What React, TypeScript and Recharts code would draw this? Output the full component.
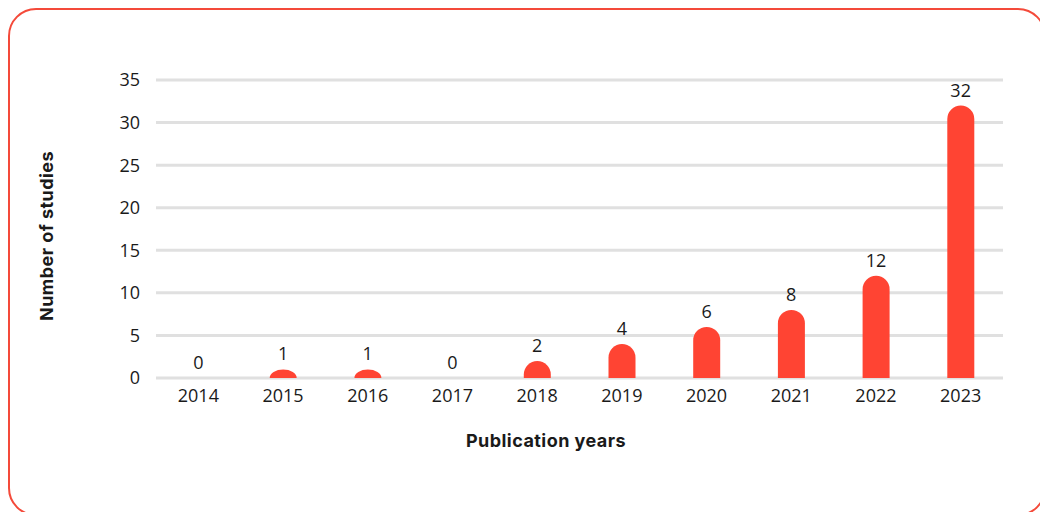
import { ComposedChart, Bar, Line, XAxis, YAxis, CartesianGrid, LabelList } from "recharts";

const years = ["2014", "2015", "2016", "2017", "2018", "2019", "2020", "2021", "2022", "2023"];
const studies = [0, 1, 1, 0, 2, 4, 6, 8, 12, 32];
const yTicks = [0, 5, 10, 15, 20, 25, 30, 35];

const FONT = "'Open Sans', 'Noto Sans', sans-serif";
const TITLE_FONT = "Inter, 'Noto Sans', sans-serif";

// rounded top that turns into a dome when the bar is shorter than its radius
const RoundTopBar = (props: any) => {
  const { x, y, width, height, fill } = props;
  if (!height || height <= 0) return null;
  const r = Math.min(width / 2, 13.5);
  const ry = Math.min(r, height);
  const d = [
    `M${x},${y + height}`,
    `L${x},${y + ry}`,
    `A${r},${ry} 0 0 1 ${x + r},${y}`,
    `L${x + width - r},${y}`,
    `A${r},${ry} 0 0 1 ${x + width},${y + ry}`,
    `L${x + width},${y + height}`,
    "Z",
  ].join(" ");
  return <path d={d} fill={fill} />;
};

const titleStyle = {
  position: "absolute" as const,
  whiteSpace: "nowrap" as const,
  fontWeight: 700,
  fontSize: 18,
  letterSpacing: 0.45,
  fontFamily: TITLE_FONT,
  color: "#1a1a1a",
};

export default function App() {
  const chartData = years.map((year, i) => ({ year, studies: studies[i] }));

  return (
    <div style={{ position: "absolute", left: 0, top: 0, width: 1040, height: 512, overflow: "hidden", fontFamily: FONT }}>
      <div
        style={{
          position: "absolute",
          left: 8,
          top: 8,
          width: 1038,
          height: 508,
          border: "2px solid #f44a3a",
          borderRadius: 28,
          boxSizing: "border-box",
        }}
      />
      <ComposedChart
        width={1040}
        height={512}
        data={chartData}
        margin={{ top: 80, right: 37, bottom: 104, left: 97 }}
        style={{ position: "absolute", left: 0, top: 0 }}
      >
        <CartesianGrid vertical={false} stroke="#e0e0e0" strokeWidth={3} />
        <XAxis
          dataKey="year"
          axisLine={false}
          tickLine={false}
          tickMargin={5}
          height={30}
          tick={{ fill: "#1a1a1a", fontSize: 18, fontFamily: FONT }}
        />
        <YAxis
          domain={[0, 35]}
          ticks={yTicks}
          axisLine={false}
          tickLine={false}
          tickMargin={10}
          width={59}
          tick={{ fill: "#1a1a1a", fontSize: 18, fontFamily: FONT }}
        />
        <Bar dataKey="studies" fill="#ff4433" barSize={27} shape={RoundTopBar} isAnimationActive={false} />
        <Line
          dataKey="studies"
          stroke="none"
          dot={false}
          activeDot={false}
          isAnimationActive={false}
        >
          <LabelList dataKey="studies" position="top" offset={9} fill="#1a1a1a" fontSize={18} fontFamily={FONT} />
        </Line>
      </ComposedChart>
      <div style={{ ...titleStyle, left: 46, top: 236, transform: "translate(-50%, -50%) rotate(-90deg)" }}>
        Number of studies
      </div>
      <div style={{ ...titleStyle, left: 546, top: 440, transform: "translate(-50%, -50%)" }}>
        Publication years
      </div>
    </div>
  );
}
